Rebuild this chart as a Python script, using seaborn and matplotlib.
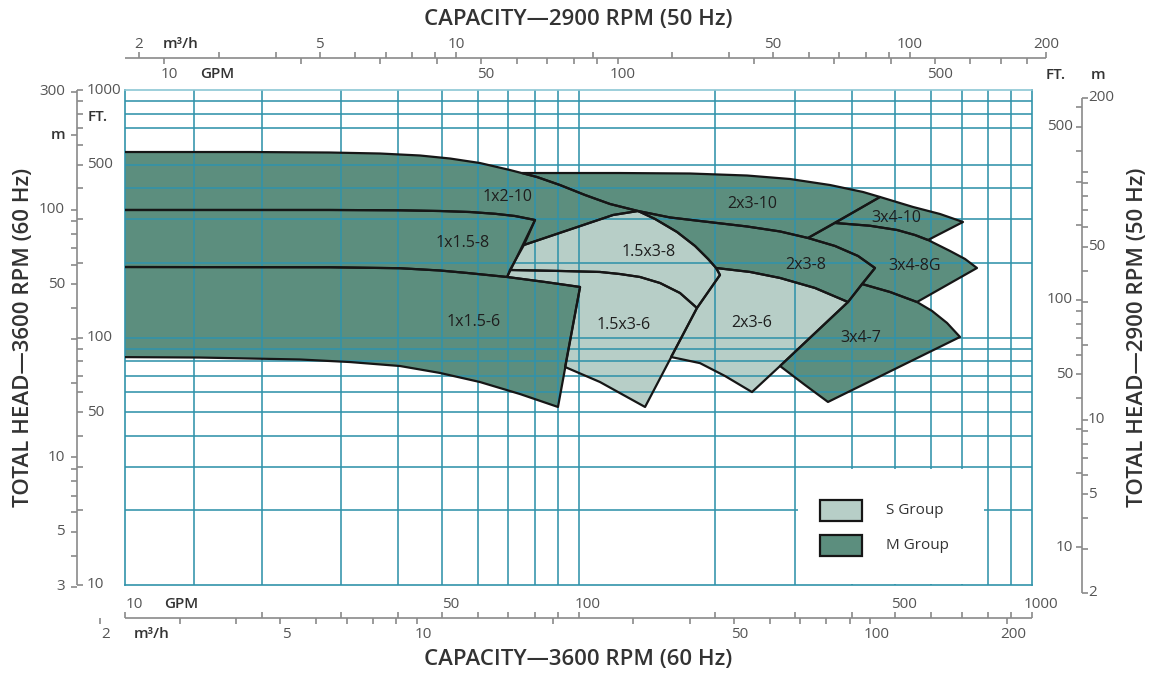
import matplotlib
matplotlib.use("Agg")
import matplotlib.pyplot as plt
import matplotlib.transforms as mtransforms
from matplotlib.patches import Rectangle
from matplotlib.collections import LineCollection
from matplotlib.ticker import NullLocator
import seaborn as sns

# ---------------- chart values ----------------
# Operating envelopes: capacity in US GPM and total head in ft at 3600 RPM (60 Hz)
gpm_1x2_10 = [9, 18.9, 28.3, 36.5, 44.7, 52.1, 60.6, 70.6, 81.0, 91.0, 103.4, 117.4, 135.3,
              119.2, 75.8, 80.2, 72.4, 65.5, 57.6, 49.5, 40.4, 28.3, 9]
ft_1x2_10 = [561.6, 561.6, 559.0, 553.8, 543.7, 528.6, 507.0, 475.0, 445.1, 413.2, 376.4, 346.2, 324.4,
             312.6, 236.5, 298.4, 309.7, 316.1, 321.4, 324.4, 326.5, 327.5, 327.5]

gpm_1x15_8 = [9, 28.3, 40.4, 49.5, 57.6, 65.5, 72.4, 80.2, 69.6, 56.8, 49.5, 40.4, 28.3, 9]
ft_1x15_8 = [327.5, 327.5, 326.5, 324.4, 321.4, 316.1, 309.7, 298.4, 175.6, 182.3, 186.5, 190.5, 192.2, 192.7]

gpm_1x15_6 = [9, 28.3, 40.4, 49.5, 56.8, 69.6, 84.4, 100.8, 90.1, 74.3, 60.6, 49.5, 40.4, 31.3, 24.3, 14.6, 9]
ft_1x15_6 = [192.7, 192.2, 190.5, 186.5, 182.3, 175.6, 167.6, 160.0, 52.4, 59.1, 66.1, 71.9, 76.7, 79.6, 81.5, 83.0, 83.4]

gpm_15x3_8 = [75.8, 119.2, 135.3, 147.5, 164.9, 180.7, 193.1, 201.1, 205.1, 182.5,
              167.4, 151.3, 136.6, 123.4, 111.5, 91.0, 70.6]
ft_15x3_8 = [236.5, 312.6, 324.4, 301.2, 266.9, 234.3, 207.6, 190.9, 178.9, 131.6,
             151.3, 166.0, 175.6, 180.5, 184.0, 185.7, 187.4]

gpm_15x3_6 = [70.6, 91.0, 111.5, 123.4, 136.6, 151.3, 167.4, 182.5, 140.2, 111.5, 93.4, 100.8, 84.4, 69.6]
ft_15x3_6 = [187.4, 185.7, 184.0, 180.5, 175.6, 166.0, 151.3, 131.6, 52.4, 66.1, 76.0, 160.0, 167.6, 175.6]

gpm_2x3_10 = [75.1, 123.4, 176.2, 235.3, 292.7, 358.5, 424.0, 462.2, 320.7, 278.2, 235.3, 185.3, 159.2,
              135.3, 117.4, 103.4, 91.0, 81.0]
ft_2x3_10 = [461.9, 461.9, 459.8, 451.3, 436.9, 413.2, 387.2, 369.6, 252.4, 268.2, 280.9, 295.6, 305.5,
             324.4, 346.2, 376.4, 413.2, 445.1]

gpm_2x3_8 = [135.3, 159.2, 185.3, 235.3, 278.2, 320.7, 367.8, 413.4, 450.6, 392.9, 332.3, 278.2, 238.9,
             201.1, 193.1, 180.7, 164.9, 147.5]
ft_2x3_8 = [324.4, 305.5, 295.6, 280.9, 268.2, 252.4, 234.3, 213.5, 190.9, 139.1, 158.5, 174.0, 184.0,
            190.9, 207.6, 234.3, 266.9, 301.2]

gpm_2x3_6 = [205.1, 201.1, 238.9, 278.2, 332.3, 392.9, 278.2, 241.3, 210.4, 185.3, 160.0, 182.5]
ft_2x3_6 = [178.9, 190.9, 184.0, 174.0, 158.5, 139.1, 76.7, 60.2, 69.9, 78.8, 83.4, 131.6]

gpm_3x4_10 = [462.2, 546.5, 626.8, 704.4, 589.8, 552.1, 503.9, 439.4, 367.8]
ft_3x4_10 = [369.6, 336.8, 315.5, 292.9, 247.7, 259.4, 271.9, 282.8, 290.2]

gpm_3x4_8g = [367.8, 439.4, 503.9, 552.1, 589.8, 659.4, 711.8, 756.2, 557.7, 486.3, 421.8,
              450.6, 413.4, 367.8, 320.7]
ft_3x4_8g = [290.2, 282.8, 271.9, 259.4, 247.7, 223.7, 207.6, 190.9, 139.1, 152.7, 164.5,
             190.9, 213.5, 234.3, 252.4]

gpm_3x4_7 = [421.8, 486.3, 557.7, 602.0, 649.5, 693.8, 354.9, 315.8, 278.2, 392.9]
ft_3x4_7 = [164.5, 152.7, 139.1, 128.0, 114.5, 100.5, 54.9, 64.3, 76.7, 139.1]

pump_names = ["1x2-10", "1x1.5-8", "1x1.5-6", "1.5x3-8", "1.5x3-6", "2x3-10",
              "2x3-8", "2x3-6", "3x4-10", "3x4-8G", "3x4-7"]
pump_groups = ["M", "M", "M", "S", "S", "M", "M", "S", "M", "M", "M"]
label_gpm = [69.6, 55.6, 58.8, 143.0, 126.0, 241.3, 317.4, 241.3, 501.3, 552.1, 419.7]
label_ft = [369.6, 240.9, 115.5, 221.6, 112.3, 346.2, 196.3, 114.5, 304.0, 194.5, 99.5]

group_names = ["S Group", "M Group"]

# scale values
gpm_major = [10, 50, 100, 500, 1000]
gpm_ticks = [10, 20, 30, 40, 50, 60, 70, 80, 90, 100, 200, 300, 400, 500, 600, 700, 800, 900, 1000]
gpm50_ticks = [10, 20, 30, 40, 50, 60, 70, 80, 90, 100, 200, 300, 400, 500, 600, 700, 800]
gpm50_major = [10, 50, 100, 500]
m3h_ticks = [2, 3, 4, 5, 6, 7, 8, 9, 10, 20, 30, 40, 50, 60, 70, 80, 90, 100, 200]
m3h_major = [2, 5, 10, 50, 100, 200]
ft_ticks = [10, 20, 30, 40, 50, 60, 70, 80, 90, 100, 200, 300, 400, 500, 600, 700, 800, 900, 1000]
ft_major = [10, 50, 100, 500, 1000]
m_ticks = [3, 4, 5, 6, 7, 8, 9, 10, 20, 30, 40, 50, 60, 70, 80, 90, 100, 200, 300]
m_major = [3, 5, 10, 50, 100, 300]
ft50_ticks = [10, 20, 30, 40, 50, 60, 70, 80, 90, 100, 200, 300, 400, 500, 600]
ft50_major = [10, 50, 100, 500]
m50_ticks = [2, 3, 4, 5, 6, 7, 8, 9, 10, 20, 30, 40, 50, 60, 70, 80, 90, 100, 200]
m50_major = [2, 5, 10, 50, 200]

grid_gpm = [14.2, 20, 30, 40, 50, 60, 70, 80, 90, 100, 200, 300, 400, 500, 600, 700, 800, 900]
grid_ft = [20, 30, 40, 50, 60, 70, 80, 90, 100, 200, 300, 400, 500, 700, 800, 900]

GPM_PER_M3H = 4.403
FT_PER_M = 3.2808
FLOW_50_OVER_60 = 0.82
HEAD_60_OVER_50 = 1.42

# ---------------- style ----------------
sns.set_theme(style="white")
plt.rcParams["font.family"] = ["Open Sans", "DejaVu Sans"]

M_FILL = "#5c8e7e"
S_FILL = "#b7cec7"
EDGE = "#161616"
GRID = "#3193aa"
RULER = "#8a8a8a"
TICKTXT = "#555555"
DARK = "#333333"

W_PX, H_PX = 1154, 673
fig = plt.figure(figsize=(W_PX / 100, H_PX / 100), dpi=100)
fig.patch.set_facecolor("white")
ax = fig.add_axes([125 / W_PX, 1 - 585 / H_PX, (1032 - 125) / W_PX, (585 - 90) / H_PX])
ax.set_xscale("log")
ax.set_yscale("log")
ax.set_xlim(10, 1000)
ax.set_ylim(10, 1000)
ax.set_xticks([])
ax.set_yticks([])
ax.xaxis.set_minor_locator(NullLocator())
ax.yaxis.set_minor_locator(NullLocator())
ax.set_facecolor("white")
for name, s in ax.spines.items():
    s.set_color(GRID if name != "top" else "#8cc7d4")
    s.set_linewidth(1.2)
    s.set_zorder(2.6)

shapes = [
    (gpm_1x2_10, ft_1x2_10), (gpm_1x15_8, ft_1x15_8), (gpm_1x15_6, ft_1x15_6),
    (gpm_15x3_8, ft_15x3_8), (gpm_15x3_6, ft_15x3_6), (gpm_2x3_10, ft_2x3_10),
    (gpm_2x3_8, ft_2x3_8), (gpm_2x3_6, ft_2x3_6), (gpm_3x4_10, ft_3x4_10),
    (gpm_3x4_8g, ft_3x4_8g), (gpm_3x4_7, ft_3x4_7),
]
for (xs, ys), grp in zip(shapes, pump_groups):
    ax.fill(xs, ys, facecolor=M_FILL if grp == "M" else S_FILL, edgecolor="none", zorder=1)
for (xs, ys) in shapes:
    ax.fill(xs, ys, facecolor="none", edgecolor=EDGE, linewidth=1.6, zorder=3, joinstyle="round")

for g in grid_gpm:
    ax.axvline(g, color=GRID, lw=1.15, zorder=2)
for h in grid_ft:
    ax.axhline(h, color=GRID, lw=1.15, zorder=2)

for name, gx, hy in zip(pump_names, label_gpm, label_ft):
    ax.text(gx, hy, name, ha="center", va="center", fontsize=11.5, color="#1e1e1e", zorder=4)

# legend
ax.add_patch(Rectangle((305, 10.1), 785 - 305, 29.5 - 10.1, facecolor="white", edgecolor="none", zorder=2.4))
for gname, fill, (y0, y1), ty in zip(group_names, [S_FILL, M_FILL], [(18.1, 22.0), (13.1, 15.9)], [19.95, 14.45]):
    ax.add_patch(Rectangle((340.8, y0), 421.8 - 340.8, y1 - y0, facecolor=fill, edgecolor=EDGE,
                           linewidth=1.6, zorder=3))
    ax.text(476, ty, gname, ha="left", va="center", fontsize=11, color=DARK, zorder=4)


# ---------------- rulers ----------------
def fx(px):
    return px / W_PX


def fy(py):
    return 1 - py / H_PX


tr_x = mtransforms.blended_transform_factory(ax.transData, fig.transFigure)
tr_y = mtransforms.blended_transform_factory(fig.transFigure, ax.transData)
TL = 6


def hruler(ypx, v0, v1, up, dn):
    y = fy(ypx)
    L = TL / H_PX
    segs = [[(v0, y), (v1, y)]]
    segs += [[(v, y), (v, y + L)] for v in up]
    segs += [[(v, y), (v, y - L)] for v in dn]
    ax.add_collection(LineCollection(segs, colors=RULER, linewidths=1.2, transform=tr_x, clip_on=False),
                      autolim=False)


def vruler(xpx, v0, v1, left, right):
    x = fx(xpx)
    L = TL / W_PX
    segs = [[(x, v0), (x, v1)]]
    segs += [[(x, v), (x - L, v)] for v in left]
    segs += [[(x, v), (x + L, v)] for v in right]
    ax.add_collection(LineCollection(segs, colors=RULER, linewidths=1.2, transform=tr_y, clip_on=False),
                      autolim=False)


def hlab(ypx, vals, texts, dx=0, **kw):
    opts = dict(ha="center", va="center", fontsize=11, color=TICKTXT)
    opts.update(kw)
    for v, t in zip(vals, texts):
        ax.annotate(t, xy=(v, fy(ypx)), xycoords=tr_x, xytext=(dx, 0), textcoords="offset pixels",
                    annotation_clip=False, **opts)


def vlab(xpx, vals, texts, **kw):
    opts = dict(va="center", fontsize=11, color=TICKTXT)
    opts.update(kw)
    for v, t in zip(vals, texts):
        ax.annotate(t, xy=(fx(xpx), v), xycoords=tr_y, annotation_clip=False, **opts)


TITLE_KW = dict(ha="center", va="center", fontsize=16, fontweight="semibold", color=DARK)

# top: 2900 RPM (50 Hz)
top_gpm = [g / FLOW_50_OVER_60 for g in gpm50_ticks]
top_m3h = [q * GPM_PER_M3H / FLOW_50_OVER_60 for q in m3h_ticks]
hruler(58, 10, max(top_m3h), top_m3h, top_gpm)
hlab(44, [q * GPM_PER_M3H / FLOW_50_OVER_60 for q in m3h_major], [str(q) for q in m3h_major])
hlab(74, [g / FLOW_50_OVER_60 for g in gpm50_major], [str(g) for g in gpm50_major], dx=5)
hlab(44, [2 * GPM_PER_M3H / FLOW_50_OVER_60], ["m³/h"], dx=42, color=DARK, fontweight="semibold")
hlab(74, [10 / FLOW_50_OVER_60], ["GPM"], dx=53, color=DARK, fontweight="semibold")
fig.text(fx(578), fy(20), "CAPACITY—2900 RPM (50 Hz)", **TITLE_KW)

# bottom: 3600 RPM (60 Hz)
bot_m3h = [q * GPM_PER_M3H for q in m3h_ticks]
hruler(618, 10, 1000, gpm_ticks, bot_m3h)
hlab(604, gpm_major, [str(g) for g in gpm_major], dx=9)
hlab(634, [q * GPM_PER_M3H for q in m3h_major], [str(q) for q in m3h_major], dx=6)
hlab(604, [10], ["GPM"], dx=56, color=DARK, fontweight="semibold")
hlab(634, [2 * GPM_PER_M3H], ["m³/h"], dx=52, color=DARK, fontweight="semibold")
fig.text(fx(578), fy(660), "CAPACITY—3600 RPM (60 Hz)", **TITLE_KW)

# left: 3600 RPM (60 Hz)
vruler(77, 10, 1000, [m * FT_PER_M for m in m_ticks], ft_ticks)
vlab(87, ft_major, [str(f) for f in ft_major], ha="left")
vlab(65, [m * FT_PER_M for m in m_major], [str(m) for m in m_major], ha="right")
vlab(88, [780], ["FT."], ha="left", color=DARK, fontweight="semibold")
vlab(65, [200 * FT_PER_M], ["m"], ha="right", color=DARK, fontweight="semibold")
fig.text(fx(24), fy(337), "TOTAL HEAD—3600 RPM (60 Hz)", rotation=90, **TITLE_KW)

# right: 2900 RPM (50 Hz)
r_ft = [f * HEAD_60_OVER_50 for f in ft50_ticks]
r_m = [m * FT_PER_M * HEAD_60_OVER_50 for m in m50_ticks]
vruler(1082, min(r_m), max(r_m), r_ft, r_m)
vlab(1073, [f * HEAD_60_OVER_50 for f in ft50_major], [str(f) for f in ft50_major], ha="right")
vlab(1088, [m * FT_PER_M * HEAD_60_OVER_50 for m in m50_major], [str(m) for m in m50_major], ha="left")
fig.text(fx(1056), fy(75), "FT.", ha="center", va="center", fontsize=11, fontweight="semibold", color=DARK)
fig.text(fx(1098), fy(75), "m", ha="center", va="center", fontsize=11, fontweight="semibold", color=DARK)
fig.text(fx(1137), fy(337), "TOTAL HEAD—2900 RPM (50 Hz)", rotation=90, **TITLE_KW)

fig.savefig("out.png", dpi=100, facecolor="white")
